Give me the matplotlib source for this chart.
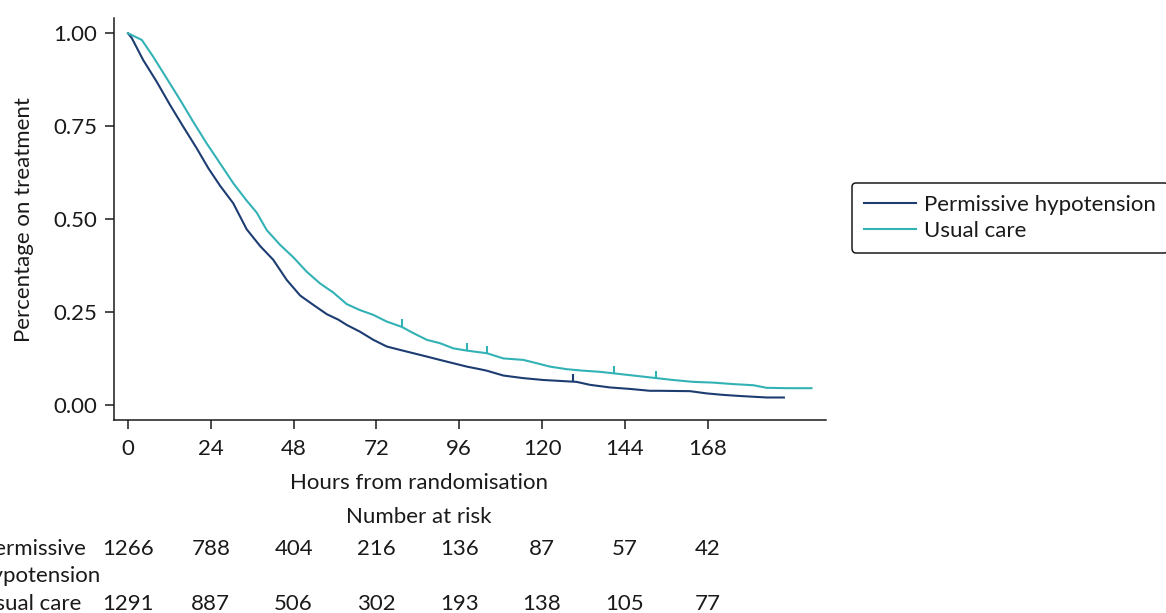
import numpy as np
import matplotlib.pyplot as plt

plt.rcParams["font.family"] = ["Lato", "DejaVu Sans"]
plt.rcParams["font.size"] = 16

# Kaplan-Meier curves (hours, proportion still on treatment)
ph_hours = [0, 1.1, 4.4, 8.3, 12.2, 16, 19.9, 23.3, 26.7, 30.5, 34.4, 38.3, 42.1,
            46, 49.9, 53.7, 57.6, 61, 63.4, 67.2, 71.1, 75, 78.8, 82.7, 86.6, 90.4,
            94.3, 98.2, 102, 104, 108.8, 114.6, 120.4, 126.2, 130, 133.9, 139.7, 145.5,
            151.3, 154.2, 162.9, 167.7, 172.5, 177.4, 185.1, 190.1]
ph_surv = [1.00, 0.987, 0.928, 0.870, 0.807, 0.749, 0.691, 0.637, 0.590, 0.543,
           0.473, 0.428, 0.391, 0.337, 0.295, 0.270, 0.245, 0.230, 0.216, 0.198, 0.176,
           0.158, 0.149, 0.140, 0.131, 0.122, 0.113, 0.104, 0.097, 0.093, 0.080, 0.073,
           0.068, 0.065, 0.063, 0.055, 0.048, 0.044, 0.039, 0.039, 0.038, 0.032, 0.028,
           0.025, 0.021, 0.021]

uc_hours = [0, 4, 7.3, 11.2, 15.1, 18.9, 22.8, 26.7, 30.5, 34.4, 37.3, 40.2, 44.1, 47.9,
            51.8, 55.6, 59.5, 63.4, 67.2, 71.1, 75, 79.3, 82.7, 86.6, 90.4, 94.3, 98.2,
            104, 108.8, 114.6, 118.5, 122.3, 127.2, 132, 136.8, 140.7, 145.5, 151.3,
            153.2, 158, 163.8, 169.6, 175.4, 181.2, 185.1, 190.9, 198.1]
uc_surv = [1.00, 0.982, 0.937, 0.879, 0.821, 0.762, 0.704, 0.650, 0.597, 0.550, 0.518,
           0.471, 0.431, 0.398, 0.359, 0.328, 0.303, 0.272, 0.256, 0.243, 0.225, 0.211,
           0.194, 0.176, 0.167, 0.153, 0.147, 0.140, 0.126, 0.122, 0.113, 0.104, 0.097,
           0.093, 0.090, 0.086, 0.081, 0.075, 0.073, 0.068, 0.063, 0.061, 0.057, 0.054,
           0.047, 0.046, 0.046]

# censoring marks
ph_cens_hours = [129]
ph_cens_surv = [0.063]
uc_cens_hours = [79.3, 98.2, 104, 141, 153]
uc_cens_surv = [0.211, 0.147, 0.140, 0.086, 0.073]

# number at risk table
risk_hours = [0, 24, 48, 72, 96, 120, 144, 168]
ph_risk = [1266, 788, 404, 216, 136, 87, 57, 42]
uc_risk = [1291, 887, 506, 302, 193, 138, 105, 77]

groups = ["Permissive hypotension", "Usual care"]
colors = ["#1d3c72", "#33b2b6"]
TEXT = "#1a1a1a"

W, H = 1166, 613


def fx(px):
    return px / W


def fy(py):
    return 1 - py / H


fig = plt.figure(figsize=(W / 100, H / 100), dpi=100)
ax = fig.add_axes([fx(114), fy(420), fx(826) - fx(114), fy(18) - fy(420)])

ax.plot(ph_hours, ph_surv, color=colors[0], lw=1.5, label=groups[0])
ax.plot(uc_hours, uc_surv, color=colors[1], lw=1.5, label=groups[1])

# small upward ticks where patients were censored
ax.vlines(ph_cens_hours, ph_cens_surv, np.array(ph_cens_surv) + 0.02, color=colors[0], lw=1.5)
ax.vlines(uc_cens_hours, uc_cens_surv, np.array(uc_cens_surv) + 0.02, color=colors[1], lw=1.5)

ax.set_xlim(-4.06, 202.3)
ax.set_ylim(-0.0395, 1.041)
ax.set_xticks(risk_hours)
ax.set_yticks([0, 0.25, 0.5, 0.75, 1.0])
ax.set_yticklabels(["0.00", "0.25", "0.50", "0.75", "1.00"])

for side in ["top", "right"]:
    ax.spines[side].set_visible(False)
for side in ["left", "bottom"]:
    ax.spines[side].set_linewidth(1.1)
    ax.spines[side].set_color(TEXT)
ax.tick_params(axis="both", direction="out", length=6.5, width=1.1, colors=TEXT, labelcolor=TEXT)
ax.tick_params(axis="y", pad=5.5)
ax.tick_params(axis="x", pad=7.5)

fig.text(fx(24), fy(219.5), "Percentage on treatment", rotation=90, ha="center", va="center", color=TEXT)
fig.text(fx(419), fy(489), "Hours from randomisation", ha="center", va="baseline", color=TEXT)
fig.text(fx(419), fy(523), "Number at risk", ha="center", va="baseline", color=TEXT)

# risk table, labels run off the left edge like in the original
fig.text(fx(86), fy(555), "Permissive", ha="right", va="baseline", color=TEXT)
fig.text(fx(101), fy(582), "hypotension", ha="right", va="baseline", color=TEXT)
fig.text(fx(81), fy(610), "Usual care", ha="right", va="baseline", color=TEXT)
for t, n1, n2 in zip(risk_hours, ph_risk, uc_risk):
    x = ax.transData.transform((t, 0))[0] / W
    fig.text(x, fy(555), str(n1), ha="center", va="baseline", color=TEXT)
    fig.text(x, fy(610), str(n2), ha="center", va="baseline", color=TEXT)

leg = fig.legend(loc="upper left", bbox_to_anchor=(fx(852), fy(183)), borderaxespad=0,
                 frameon=True, fancybox=True, handlelength=2.35, handletextpad=0.36,
                 labelspacing=0.24, borderpad=0.55, labelcolor=TEXT)
leg.get_frame().set_edgecolor(TEXT)
leg.get_frame().set_linewidth(1.1)
leg.get_frame().set_alpha(1)

fig.savefig("out.png", dpi=100)
plt.close()
